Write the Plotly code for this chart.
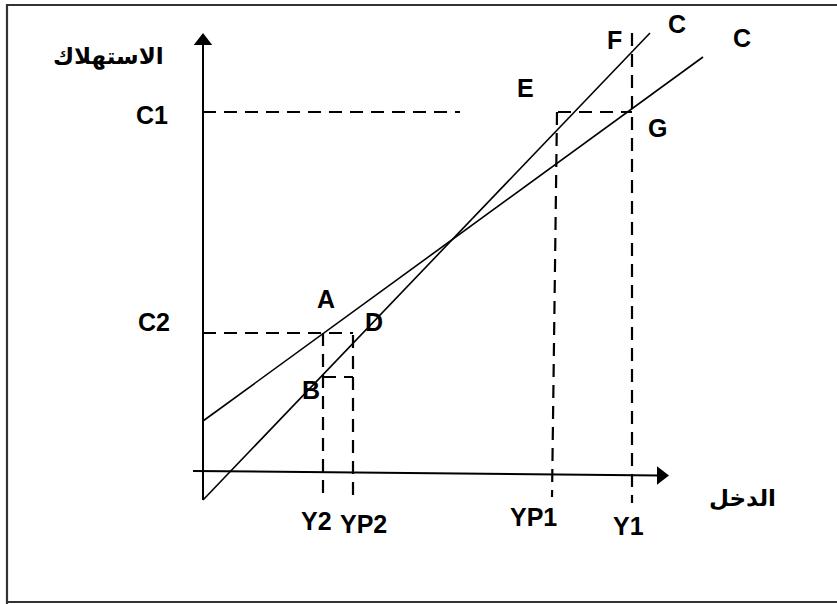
import plotly.graph_objects as go

# ---- diagram data (pixel-like diagram units; y grows downward) ----
income_labels = ["Y2", "YP2", "YP1", "Y1"]
income_x = [323, 353, 556, 632]
income_label_pos = [(316, 521), (363, 524), (533, 517), (628, 526)]

cons_labels = ["C1", "C2"]
cons_y = [112, 333]
cons_label_pos = [(152, 115), (154, 322)]

# consumption functions
flat_c_x = [203, 703]
flat_c_y = [421, 57]
steep_c_x = [203, 650]
steep_c_y = [500, 33]

# axes
y_axis_x = [203, 203]
y_axis_y = [500, 40]
x_axis_x = [193, 660]
x_axis_y = [471, 475.6]

# dashed guide segments (x0, y0, x1, y1)
guides = [
    (203, 112, 460, 112),   # C1
    (203, 333, 353, 333),   # C2
    (558, 112, 632, 112),   # E - G
    (323, 333, 323, 500),   # Y2
    (353, 335, 353, 500),   # YP2
    (323, 377, 353, 377),   # B bracket
    (557, 112, 552, 497),   # YP1
    (632, 33, 632, 503),    # Y1
]

point_labels = ["A", "B", "D", "E", "F", "G", "C", "C"]
point_pos = [(326, 299), (311, 390), (374, 322), (525, 88), (614, 40), (657, 128), (677, 24), (742, 38)]

y_title = "الاستهلاك"
y_title_pos = (108, 56)
x_title = "الدخل"
x_title_pos = (742, 498)

frame_x = [7, 7, 860]
frame_y = [660, 5, 5]
frame_bottom_x = [7, 860]
frame_bottom_y = [602, 602]

fig = go.Figure()

# frame
fig.add_trace(go.Scatter(x=frame_x, y=frame_y, mode="lines",
                         line=dict(color="#333333", width=2.2), hoverinfo="skip"))
fig.add_trace(go.Scatter(x=frame_bottom_x, y=frame_bottom_y, mode="lines",
                         line=dict(color="#333333", width=2.2), hoverinfo="skip"))

# dashed guides
gx, gy = [], []
for x0, y0, x1, y1 in guides:
    gx += [x0, x1, None]
    gy += [y0, y1, None]
fig.add_trace(go.Scatter(x=gx, y=gy, mode="lines",
                         line=dict(color="black", width=2.2, dash="13px,8px"), hoverinfo="skip"))

# consumption lines
fig.add_trace(go.Scatter(x=flat_c_x, y=flat_c_y, mode="lines",
                         line=dict(color="black", width=1.6), hoverinfo="skip"))
fig.add_trace(go.Scatter(x=steep_c_x, y=steep_c_y, mode="lines",
                         line=dict(color="black", width=1.6), hoverinfo="skip"))

# axes
fig.add_trace(go.Scatter(x=y_axis_x, y=y_axis_y, mode="lines",
                         line=dict(color="black", width=2), hoverinfo="skip"))
fig.add_trace(go.Scatter(x=x_axis_x, y=x_axis_y, mode="lines",
                         line=dict(color="black", width=2), hoverinfo="skip"))
# arrow heads
fig.add_trace(go.Scatter(x=[y_axis_x[1]], y=[y_axis_y[1] + 1], mode="markers",
                         marker=dict(symbol="triangle-up", size=16, color="black"), hoverinfo="skip"))
fig.add_trace(go.Scatter(x=[x_axis_x[1] + 1], y=[x_axis_y[1]], mode="markers",
                         marker=dict(symbol="triangle-right", size=16, color="black"), hoverinfo="skip"))

lab_font = dict(family="Liberation Sans, Arial", size=25, color="black")
ar_font = dict(family="DejaVu Sans", size=23, color="black")

annotations = []
for t, (x, y) in zip(income_labels, income_label_pos):
    annotations.append(dict(x=x, y=y, text="<b>%s</b>" % t, font=lab_font))
for t, (x, y) in zip(cons_labels, cons_label_pos):
    annotations.append(dict(x=x, y=y, text="<b>%s</b>" % t, font=lab_font))
for t, (x, y) in zip(point_labels, point_pos):
    annotations.append(dict(x=x, y=y, text="<b>%s</b>" % t, font=lab_font))
annotations.append(dict(x=y_title_pos[0], y=y_title_pos[1], text="<b>%s</b>" % y_title, font=ar_font))
annotations.append(dict(x=x_title_pos[0], y=x_title_pos[1], text="<b>%s</b>" % x_title, font=ar_font))
for a in annotations:
    a.update(xref="x", yref="y", showarrow=False, xanchor="center", yanchor="middle")

fig.update_layout(
    width=837, height=604,
    margin=dict(l=0, r=0, t=0, b=0),
    paper_bgcolor="white", plot_bgcolor="white",
    showlegend=False,
    annotations=annotations,
    xaxis=dict(range=[0, 837], visible=False, fixedrange=True),
    yaxis=dict(range=[604, 0], visible=False, fixedrange=True),
)

fig.write_html("out.html", config={"displayModeBar": False},
               post_script="document.body.style.margin='0px';document.body.style.overflow='hidden';")
